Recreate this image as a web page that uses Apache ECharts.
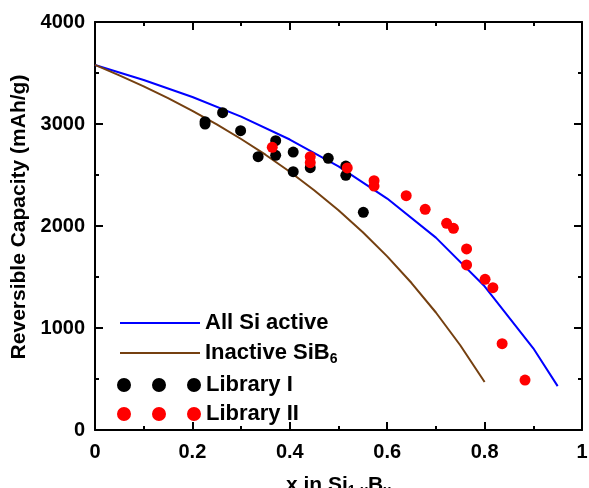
<!DOCTYPE html>
<html>
<head>
<meta charset="utf-8">
<script src="https://cdn.jsdelivr.net/npm/echarts@6/dist/echarts.min.js"></script>
<style>
  html, body { margin: 0; padding: 0; background: #fff; }
  #chart { width: 589px; height: 488px; }
</style>
</head>
<body>
<div id="chart"></div>
<script>
// Theoretical capacity, all Si electrochemically active
const xAllSi = [0, 0.1, 0.2, 0.3, 0.4, 0.5, 0.6, 0.7, 0.8, 0.9, 0.95];
const capAllSi = [3579, 3432, 3265, 3072, 2848, 2584, 2269, 1886, 1409, 801, 430];

// Theoretical capacity, Si bound in SiB6 inactive
const xSiB6 = [0, 0.05, 0.1, 0.15, 0.2, 0.25, 0.3, 0.35, 0.4, 0.45, 0.5, 0.55, 0.6, 0.65, 0.7, 0.75, 0.8];
const capSiB6 = [3579, 3477, 3369, 3253, 3129, 2996, 2853, 2699, 2532, 2351, 2154, 1938, 1702, 1441, 1152, 831, 470];

// Measured reversible capacity, library I
const libIx = [0.226, 0.226, 0.262, 0.299, 0.335, 0.371, 0.371, 0.407, 0.407, 0.442, 0.479, 0.515, 0.515, 0.551];
const libIy = [3022, 3000, 3111, 2934, 2680, 2836, 2693, 2725, 2533, 2572, 2663, 2588, 2497, 2134];

// Measured reversible capacity, library II
const libIIx = [0.364, 0.442, 0.442, 0.518, 0.573, 0.573, 0.639, 0.678, 0.722, 0.736, 0.763, 0.763, 0.801, 0.817, 0.836, 0.883];
const libIIy = [2771, 2680, 2621, 2569, 2444, 2392, 2297, 2164, 2026, 1977, 1775, 1618, 1477, 1395, 846, 490];

const zip = (xs, ys) => xs.map((x, i) => [x, ys[i]]);

const FONT = 'Liberation Sans, Arial, sans-serif';
const tickStyle = { show: true, inside: true, length: 8, lineStyle: { color: '#000', width: 2 } };
const minorStyle = { show: true, splitNumber: 2, length: 4, lineStyle: { color: '#000', width: 2 } };
const lineAxis = { show: true, onZero: false, lineStyle: { color: '#000', width: 2 } };

const lineIcon = 'path://M0,0H80V2H0Z';
const threeDots = 'path://M0,7a7,7 0 1,0 14,0a7,7 0 1,0 -14,0Z' +
  'M35,7a7,7 0 1,0 14,0a7,7 0 1,0 -14,0Z' +
  'M70,7a7,7 0 1,0 14,0a7,7 0 1,0 -14,0Z';

const legendText = {
  color: '#000', fontFamily: FONT, fontWeight: 'bold', fontSize: 22, lineHeight: 20,
  rich: { sub: { fontFamily: FONT, fontWeight: 'bold', fontSize: 14, padding: [12, 0, 0, 0] } }
};

const chart = echarts.init(document.getElementById('chart'));
chart.setOption({
  animation: false,
  backgroundColor: '#fff',
  grid: { left: 95, right: 7, top: 22, bottom: 58, outerBoundsMode: 'none', containLabel: false },
  legend: [
    {
      orient: 'vertical', left: 120, top: 312, itemGap: 8, padding: 0,
      itemWidth: 80, itemHeight: 2,
      data: [{ name: 'All Si active', icon: lineIcon }, { name: 'Inactive SiB6', icon: lineIcon }],
      formatter: n => n === 'Inactive SiB6' ? 'Inactive SiB{sub|6}' : n,
      textStyle: legendText
    },
    {
      orient: 'vertical', left: 117, top: 374, itemGap: 7, padding: 0,
      itemWidth: 84, itemHeight: 14,
      data: [{ name: 'Library I', icon: threeDots }, { name: 'Library II', icon: threeDots }],
      textStyle: legendText
    }
  ],
  xAxis: [
    {
      type: 'value', min: 0, max: 1, interval: 0.2,
      name: 'x in Si{sub|1-x}B{sub|x}', nameLocation: 'middle', nameGap: 42,
      nameTextStyle: {
        color: '#000', fontFamily: FONT, fontWeight: 'bold', fontSize: 21,
        rich: { sub: { fontFamily: FONT, fontWeight: 'bold', fontSize: 14, padding: [12, 0, 0, 0] } }
      },
      axisLine: lineAxis, axisTick: tickStyle, minorTick: minorStyle,
      splitLine: { show: false },
      axisLabel: { color: '#000', fontFamily: FONT, fontWeight: 'bold', fontSize: 20, margin: 12 }
    },
    {
      type: 'value', min: 0, max: 1, interval: 0.2, position: 'top',
      axisLine: lineAxis, axisTick: tickStyle, minorTick: minorStyle,
      splitLine: { show: false }, axisLabel: { show: false }
    }
  ],
  yAxis: [
    {
      type: 'value', min: 0, max: 4000, interval: 1000,
      name: 'Reversible Capacity (mAh/g)', nameLocation: 'middle', nameGap: 64,
      nameTextStyle: {
        color: '#000', fontFamily: FONT, fontWeight: 'bold', fontSize: 21,
        padding: [0, 0, 0, 18]
      },
      axisLine: lineAxis, axisTick: tickStyle, minorTick: minorStyle,
      splitLine: { show: false },
      axisLabel: {
        color: '#000', fontFamily: FONT, fontWeight: 'bold', fontSize: 20, margin: 10,
        formatter: v => String(v)
      }
    },
    {
      type: 'value', min: 0, max: 4000, interval: 1000, position: 'right',
      axisLine: lineAxis, axisTick: tickStyle, minorTick: minorStyle,
      splitLine: { show: false }, axisLabel: { show: false }
    }
  ],
  series: [
    {
      name: 'All Si active', type: 'line', data: zip(xAllSi, capAllSi),
      symbol: 'none', lineStyle: { color: '#0000ff', width: 2 }, itemStyle: { color: '#0000ff' }, z: 2
    },
    {
      name: 'Inactive SiB6', type: 'line', data: zip(xSiB6, capSiB6),
      symbol: 'none', lineStyle: { color: '#754010', width: 2 }, itemStyle: { color: '#754010' }, z: 2
    },
    {
      name: 'Library I', type: 'scatter', data: zip(libIx, libIy),
      symbol: 'circle', symbolSize: 11, itemStyle: { color: '#000', opacity: 1 }, z: 3
    },
    {
      name: 'Library II', type: 'scatter', data: zip(libIIx, libIIy),
      symbol: 'circle', symbolSize: 11, itemStyle: { color: '#ff0000', opacity: 1 }, z: 4
    }
  ]
});
</script>
</body>
</html>
